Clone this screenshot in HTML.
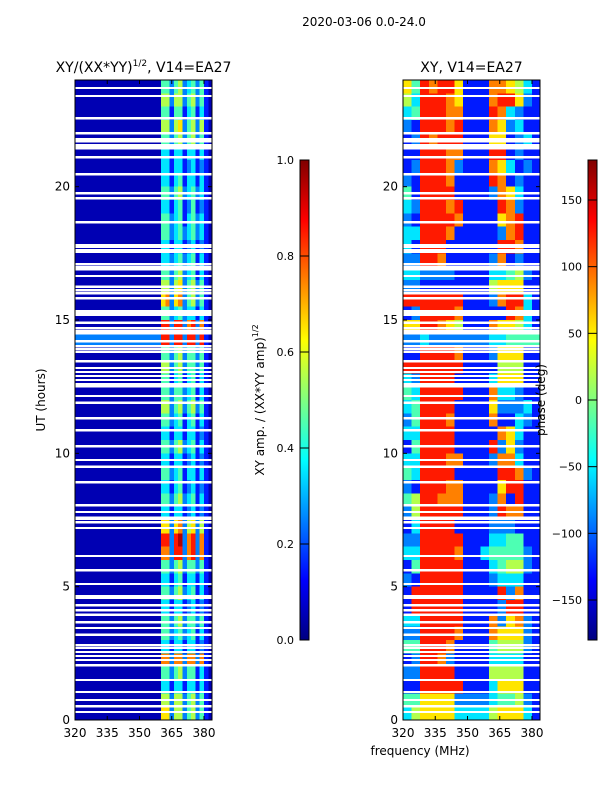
<!DOCTYPE html>
<html><head><meta charset="utf-8"><style>
body{margin:0;background:#fff;}
svg{display:block;font-family:"DejaVu Sans","Liberation Sans",sans-serif;}
</style></head><body>
<svg id="fig" width="600" height="800" viewBox="0 0 600 800" xmlns="http://www.w3.org/2000/svg"></svg>
<script>
// ---- data ----
const hourTicks=[0,5,10,15,20];
const freqTicks=[320,335,350,365,380];
const ampTicks=[0.0,0.2,0.4,0.6,0.8,1.0];
const phaseTicks=[-150,-100,-50,0,50,100,150];
// amplitude background level (320-360 MHz) per half-hour row, top (24h) to bottom
const ampBg="000000000000000000020000000000000000000000000000";
// amplitude levels 360-384 MHz (2 MHz cols), top to bottom
const ampBand=["442452342410","552552452410","441441341310","552562452510","442452452410","331331331310","331331231210","331341331310","442452342310","331341241210","442341342310","442342342310","331331231210","332342341310","442452341310","552562452410","672672452410","442342331310","882882782710","882882882810","442452442410","552452442410","441341341310","442442341310","552452452410","442341341310","331331331210","442452341310","331331231210","442341331310","331341231210","442452341310","331331231210","662672562510","882892782710","772882782710","442452442410","331341331310","442452341310","331331231210","442452442410","442342341310","331331331210","772772772710","442452441310","331331331310","552552452410","662552452410"];
// phase levels (4 MHz cols, 320-384), top to bottom
const phase=["6487886111776531","5388876111788621","3488877111873211","2188878111762311","1287888111661231","1188877111881211","1288872111763121","2188871111871211","4188881111276311","3288878111187211","2188887111167811","3388871111127811","3188811111188711","2288711111271211","3322221111334521","2211111111566611","8888888111278831","1288887111118731","6688765111766531","2232222222334444","1188887111266611","8888888111155511","3288881111366611","4388888111733211","3488881111622231","2488871111711321","3388881111176311","1488881111826211","3388877111277311","4388881111188721","2188877111168811","4588777111271811","2588888111287711","1388881111222111","2288888111334411","3388887113444421","1488888111345521","2188888111233311","1888888111182711","1888888111128811","3388888111726721","2288887111766621","4488871111455521","1288721111333311","2288881111555511","1188888111366611","4466662222344521","3566663333566631"];
// flagged (blank) times in hours
const flagH=[23.70,23.40,22.57,22.01,21.78,21.71,21.11,20.47,19.76,19.57,18.67,17.81,17.74,17.62,17.55,17.10,16.99,16.91,16.65,16.24,16.12,16.01,15.82,14.89,14.70,14.59,14.51,14.21,14.02,13.91,13.80,13.46,13.20,13.05,12.90,12.75,12.60,12.52,12.15,11.89,11.32,10.87,10.27,9.75,9.49,8.92,8.06,7.80,7.42,7.20,6.15,5.62,5.10,4.31,4.12,3.94,3.67,3.45,3.19,2.81,2.70,2.55,2.40,2.25,2.06,1.50,1.05,0.75,0.52,0.30];
const flagBig=[[21.40,21.60],[15.15,15.38],[7.50,7.64],[4.54,4.68]];

const NS="http://www.w3.org/2000/svg";
const svg=document.getElementById('fig');
function el(t,a,p){const e=document.createElementNS(NS,t);for(const k in a)e.setAttribute(k,a[k]);(p||svg).appendChild(e);return e;}
function jet(v){v=Math.max(0,Math.min(1,v));const c=x=>Math.round(255*Math.max(0,Math.min(1,x)));
 return `rgb(${c(1.5-Math.abs(4*v-3))},${c(1.5-Math.abs(4*v-2))},${c(1.5-Math.abs(4*v-1))})`;}
const Y0=80,Y1=720;
const ys=h=>Y1-(h/24)*(Y1-Y0);
function mkX(x0){return f=>x0+(f-320)*2.15;}

function panel(x0,name){
 const g=el('g',{});
 
 
 const cp=el('clipPath',{id:'cp'+name},g);
 el('rect',{x:x0,y:Y0,width:137,height:640},cp);
 const img=el('g',{'clip-path':`url(#cp${name})`,'shape-rendering':'crispEdges'},g);
 
 
 return {g,img,xs:mkX(x0),x0};
}
function flags(p){
 flagH.forEach(h=>{const r=el('rect',{x:p.x0,y:ys(h)-1.2,width:137,height:2.4,fill:'#fff'},p.img);
  });
 flagBig.forEach(b=>{const r=el('rect',{x:p.x0,y:ys(b[1]),width:137,height:ys(b[0])-ys(b[1]),fill:'#fff'},p.img);
  });
}
function axes(p,title){
 const {g,xs,x0}=p;
 const fr=el('rect',{x:x0,y:Y0,width:137,height:640,fill:'none',stroke:'#000','stroke-width':1},g);
 
 hourTicks.forEach(h=>{const y=ys(h);
  el('line',{x1:x0,x2:x0+4,y1:y,y2:y,stroke:'#000'},g);el('line',{x1:x0+137,x2:x0+133,y1:y,y2:y,stroke:'#000'},g);
  const t=el('text',{x:x0-5,y:y+4,'text-anchor':'end','font-size':12},g);t.textContent=h;
  });
 freqTicks.forEach(f=>{const x=xs(f);
  el('line',{x1:x,x2:x,y1:Y1,y2:Y1-4,stroke:'#000'},g);el('line',{x1:x,x2:x,y1:Y0,y2:Y0+4,stroke:'#000'},g);
  const t=el('text',{x:x,y:Y1+17,'text-anchor':'middle','font-size':12},g);t.textContent=f;
  });
 const tt=el('text',{x:x0+68.5,y:72,'text-anchor':'middle','font-size':14},g);tt.innerHTML=title;
 
}
// left amplitude panel
const L=panel(75,'amp-panel');
ampBand.forEach((s,r)=>{
 const row=ampBg[r].repeat(20)+s;
 for(let c=0;c<32;c++){
  const v=(+row[c]+0.5)/10, f=320+2*c;
  const rc=el('rect',{x:L.xs(f),y:ys(24-r*0.5),width:L.xs(f+2)-L.xs(f)+0.3,height:ys(0)-ys(0.5)+0.3,fill:jet(v)},L.img);
  
 }});
flags(L);
axes(L,'XY/(XX*YY)<tspan font-size="9" dy="-6">1/2</tspan><tspan dy="6">, V14=EA27</tspan>');
// right phase panel
const R=panel(403,'phase-panel');
phase.forEach((s,r)=>{
 for(let c=0;c<16;c++){
  const deg=-180+(+s[c]+0.5)*36, f=320+4*c;
  const rc=el('rect',{x:R.xs(f),y:ys(24-r*0.5),width:R.xs(f+4)-R.xs(f)+0.3,height:ys(0)-ys(0.5)+0.3,fill:jet((deg+180)/360)},R.img);
  
 }});
flags(R);
axes(R,'XY, V14=EA27');

// colorbars
function colorbar(x,name,ticks,vmin,vmax,label,lx,fmt){
 const g=el('g',{});
 const id='gr'+name;const lg=el('linearGradient',{id,x1:0,y1:1,x2:0,y2:0},g);
 for(let i=0;i<=16;i++)el('stop',{offset:i/16,'stop-color':jet(i/16)},lg);
 el('rect',{x:x,y:160,width:9,height:480,fill:`url(#${id})`,stroke:'#000','stroke-width':1},g);
 const sy=v=>640-(v-vmin)/(vmax-vmin)*480;
 ticks.forEach(v=>{const y=sy(v);el('line',{x1:x,x2:x+9,y1:y,y2:y,stroke:'#000'},g);
  const t=el('text',{x:x-6,y:y+4,'text-anchor':'end','font-size':11},g);t.textContent=fmt(v);
  });
 const t=el('text',{x:lx,y:400,'text-anchor':'middle','font-size':12,transform:`rotate(-90 ${lx} 400)`},g);t.innerHTML=label;
 
}
colorbar(300,'amp-colorbar',ampTicks,0,1,'XY amp. / (XX*YY amp)<tspan font-size="8" dy="-6">1/2</tspan>',264,v=>v.toFixed(1));
colorbar(588,'phase-colorbar',phaseTicks,-180,180,'phase (deg)',545,v=>v<0?'\u2212'+(-v):''+v);

function txt(x,y,s,size,name,rot){const a={x,y,'text-anchor':'middle','font-size':size};if(rot)a.transform=`rotate(-90 ${x} ${y})`;
 const t=el('text',a);t.textContent=s;}
txt(364,26,'2020-03-06 0.0-24.0',12,'figure-title');
txt(45,400,'UT (hours)',12,'y-axis-title',true);
txt(420,755,'frequency (MHz)',12,'x-axis-title');
</script>
</body></html>
